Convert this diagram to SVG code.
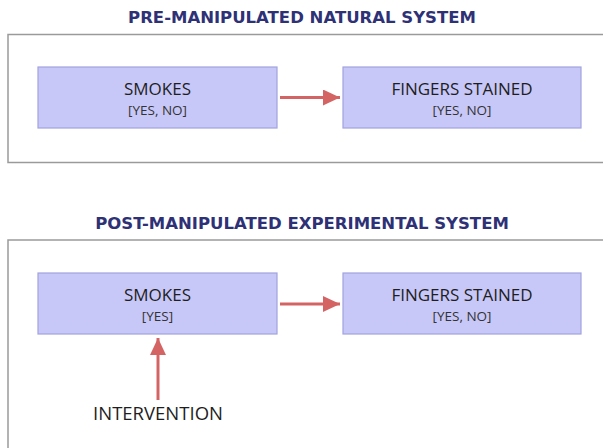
<svg xmlns="http://www.w3.org/2000/svg" width="603" height="448" viewBox="0 0 603 448">
<style>
.title{font-family:"DejaVu Sans","Open Sans",sans-serif;font-weight:bold;font-size:16.5px;fill:#2e3175;text-anchor:middle}
.panel{fill:#ffffff;stroke:#9a9a9a;stroke-width:1.5}
.node{fill:#c8c8f8;stroke:#a2a2e0;stroke-width:1.2}
.lbl{font-family:"Open Sans","DejaVu Sans",sans-serif;font-size:17px;fill:#1e1e1e;text-anchor:middle}
.sub{font-family:"Open Sans","DejaVu Sans",sans-serif;font-size:13.5px;fill:#333;text-anchor:middle}
.edge{stroke:#d46464;stroke-width:3;fill:none}
</style>
<defs>
<marker id="ah" markerUnits="userSpaceOnUse" markerWidth="18" markerHeight="16" refX="17" refY="8" orient="auto">
<path d="M0,0 L17,8 L0,16 Z" fill="#d46464"/>
</marker>
</defs>
<rect width="603" height="448" fill="#ffffff"/>
<g id="panel-pre">
<text class="title" x="302" y="23">PRE-MANIPULATED NATURAL SYSTEM</text>
<rect class="panel" x="8" y="34.5" width="610" height="128"/>
</g>
<g id="panel-post">
<text class="title" x="302" y="229">POST-MANIPULATED EXPERIMENTAL SYSTEM</text>
<rect class="panel" x="8" y="240" width="610" height="230"/>
</g>
<g id="pre-smokes">
<rect class="node" x="38" y="67" width="239" height="61"/>
<text class="lbl" x="157.5" y="94.5">SMOKES</text>
<text class="sub" x="157.5" y="114.5">[YES, NO]</text>
</g>
<g id="pre-fingers">
<rect class="node" x="343" y="67" width="238" height="61"/>
<text class="lbl" x="462" y="94.5">FINGERS STAINED</text>
<text class="sub" x="462" y="114.5">[YES, NO]</text>
</g>
<g id="post-smokes">
<rect class="node" x="38" y="273" width="239" height="61"/>
<text class="lbl" x="157.5" y="300.5">SMOKES</text>
<text class="sub" x="157.5" y="320.5">[YES]</text>
</g>
<g id="post-fingers">
<rect class="node" x="343" y="273" width="238" height="61"/>
<text class="lbl" x="462" y="300.5">FINGERS STAINED</text>
<text class="sub" x="462" y="320.5">[YES, NO]</text>
</g>
<g id="intervention">
<text class="lbl" x="158" y="420" style="font-size:18.5px">INTERVENTION</text>
</g>
<g id="connectors">
<line class="edge" x1="280" y1="97.5" x2="340" y2="97.5" marker-end="url(#ah)"/>
<line class="edge" x1="280" y1="304" x2="340" y2="304" marker-end="url(#ah)"/>
<line class="edge" x1="158" y1="400" x2="158" y2="338" marker-end="url(#ah)"/>
</g>
</svg>
